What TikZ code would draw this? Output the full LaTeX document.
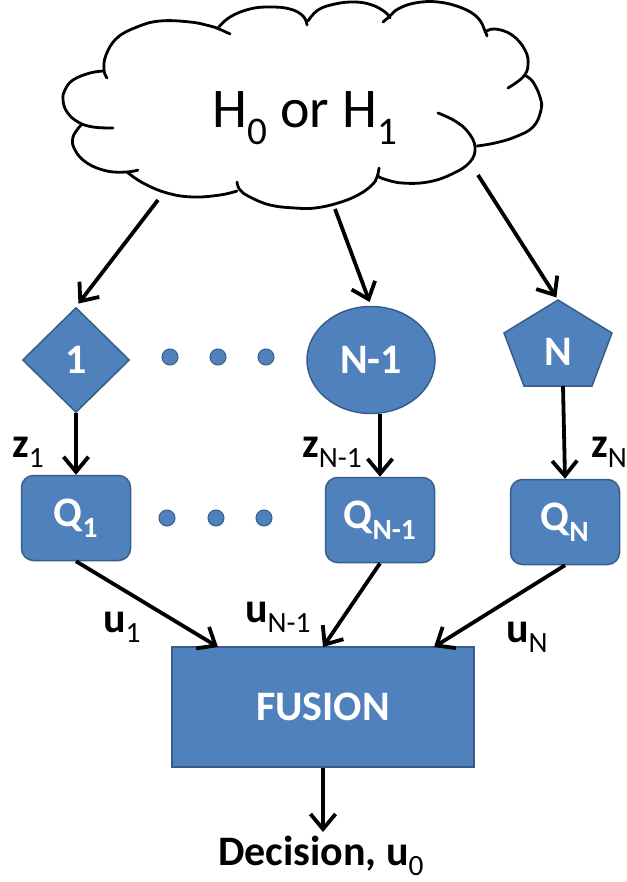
\documentclass[tikz,border=0pt]{standalone}
\usepackage{fontspec}
\setmainfont{Carlito}
\usetikzlibrary{shapes.geometric,arrows.meta}
\definecolor{accent}{HTML}{4F81BD}
\definecolor{accentdark}{HTML}{385D8A}
\newcommand\lb[2]{\textbf{#1}\textsubscript{#2}}
\begin{document}
\begin{tikzpicture}[x=1pt,y=-1pt,
  shp/.style={fill=accent,draw=accentdark,line width=1.5pt,text=white,
    font=\fontsize{42}{44}\selectfont\bfseries,inner sep=0pt},
  arr/.style={-{Straight Barb[length=15pt,width=25pt]},line width=3.8pt},
  lab/.style={font=\fontsize{42}{44}\selectfont,anchor=base west,inner sep=0pt},
  dot/.style={circle,fill=accent,draw=accentdark,line width=1pt,minimum size=16pt,inner sep=0pt},
  puff/.style={line width=2.8pt,line cap=round,smooth,tension=0.7}]
\useasboundingbox (0,0) rectangle (626,882);
% cloud outline
\draw[puff] plot coordinates {(107,78) (104,70) (106,55) (117,38) (137,27) (160,21) (190,22) (210,26) (219,29) (230,34)};
\draw[puff] plot coordinates {(218,28) (230,17) (250,9) (270,7) (290,9) (303,16) (307,25)};
\draw[puff] plot coordinates {(308,21) (318,10) (335,4) (355,2) (372,5) (385,12) (390,18)};
\draw[puff] plot coordinates {(383,22) (390,16) (398,9) (415,3) (438,2) (462,8) (478,18) (485,31) (487,36)};
\draw[puff] plot coordinates {(485,32) (495,29) (512,35) (525,50) (528,65) (523,77) (508,88)};
\draw[puff] plot coordinates {(526,76) (533,82) (540,97) (541,110) (533,127) (515,137) (495,143) (477,146)};
\draw[puff] plot coordinates {(438,113) (455,121) (468,132) (475,147) (470,162) (452,174) (428,182) (402,183) (384,179) (378,176)};
\draw[puff] plot coordinates {(379,168) (377,177) (372,185) (358,195) (338,203) (315,208) (295,208) (270,205) (250,197) (240,190) (237,182)};
\draw[puff] plot coordinates {(237,191) (220,195) (193,197) (167,193) (143,183) (127,172)};
\draw[puff] plot coordinates {(138,170) (127,172) (107,171) (87,163) (75,150) (73,137) (82,124)};
\draw[puff] plot coordinates {(113,128) (93,127) (78,122) (67,112) (63,100) (65,90) (73,80) (90,73) (104,71)};
\node[font=\fontsize{56}{60}\selectfont,anchor=base,inner sep=0pt] (hyp) at (305,128) {H\textsubscript{0} or H\textsubscript{1}};
% sensors
\node[shp,diamond,minimum width=107pt,minimum height=105pt] (d1) at (76,360) {1};
\node[shp,ellipse,minimum width=128pt,minimum height=107pt] (e1) at (371,360) {N-1};
\fill[accent,draw=accentdark,line width=1.5pt] (558,300) -- (612,333) -- (592,386) -- (524,386) -- (504,333) -- cycle;
\node[shp,fill=none,draw=none] (pN) at (558,352) {N};
\coordinate (pbot) at (563,386);
\node[dot] (a1) at (170,357) {};
\node[dot] (a2) at (218,357) {};
\node[dot] (a3) at (266,357) {};
% quantizers
\node[shp,rectangle,rounded corners=12pt,minimum width=109pt,minimum height=85pt] (q1) at (76,518) {Q\textsubscript{1}};
\node[shp,rectangle,rounded corners=12pt,minimum width=109pt,minimum height=85pt] (q2) at (380,520) {Q\textsubscript{N-1}};
\node[shp,rectangle,rounded corners=12pt,minimum width=109pt,minimum height=85pt] (q3) at (565,522) {Q\textsubscript{N}};
\node[dot] (b1) at (167,518) {};
\node[dot] (b2) at (216,518) {};
\node[dot] (b3) at (264,518) {};
% fusion
\node[shp,rectangle,minimum width=302pt,minimum height=120pt] (fus) at (323,707) {FUSION};
\node[font=\fontsize{42}{44}\selectfont\bfseries,anchor=base,inner sep=0pt] (dec) at (321,865) {Decision, u\textsubscript{\mdseries 0}};
% arrows from cloud
\coordinate (s1) at (158,200);
\coordinate (s2) at (335,209);
\coordinate (s3) at (478,175);
\draw[arr,shorten >=4pt] (s1) -- (d1.north);
\draw[arr,shorten >=4pt] (s2) -- (e1.north);
\draw[arr,shorten >=3pt] (s3) -- (558,300);
% vertical arrows
\draw[arr] (d1.south) -- (q1.north);
\draw[arr] (q2.north |- e1.south) -- (q2.north);
\draw[arr] (pbot) -- (q3.north);
% into fusion
\coordinate (f1) at (218,647);
\coordinate (f2) at (323,647);
\coordinate (f3) at (434,647);
\draw[arr] (q1.south) -- (f1);
\draw[arr] (q2.south) -- (f2);
\draw[arr] (q3.south) -- (f3);
\coordinate (dtip) at (323,832);
\draw[arr] (fus.south) -- (dtip);
% labels
\node[lab] (z1) at (12,457) {\lb{z}{1}};
\node[lab] (z2) at (302,457) {\lb{z}{N-1}};
\node[lab] (z3) at (591,457) {\lb{z}{N}};
\node[lab] (u1) at (103,632) {\lb{u}{1}};
\node[lab] (u2) at (245,622) {\lb{u}{N-1}};
\node[lab] (u3) at (506,642) {\lb{u}{N}};
\end{tikzpicture}
\end{document}
